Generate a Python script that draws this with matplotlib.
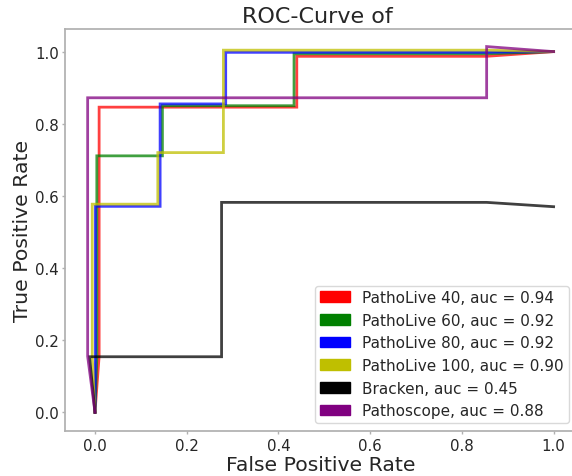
import matplotlib
matplotlib.use("Agg")
import matplotlib.pyplot as plt
import matplotlib.patches as mpatches

# ROC data (FPR, TPR per method)
labels = ["PathoLive 40, auc = 0.94", "PathoLive 60, auc = 0.92",
          "PathoLive 80, auc = 0.92", "PathoLive 100, auc = 0.90",
          "Bracken, auc = 0.45", "Pathoscope, auc = 0.88"]
colors = ["r", "g", "b", "y", "k", "purple"]

fpr_pl40 = [0, 0.009, 0.009, 0.440, 0.440, 0.854, 1.0]
tpr_pl40 = [0, 0.155, 0.846, 0.846, 0.987, 0.987, 1.0]

fpr_pl60 = [0, 0.004, 0.004, 0.147, 0.147, 0.434, 0.434, 0.854, 1.0]
tpr_pl60 = [0, 0.155, 0.711, 0.711, 0.850, 0.850, 0.994, 0.994, 1.0]

fpr_pl80 = [0, 0.001, 0.001, 0.142, 0.142, 0.285, 0.285, 0.854, 1.0]
tpr_pl80 = [0, 0.155, 0.571, 0.571, 0.855, 0.855, 0.998, 0.998, 1.0]

fpr_pl100 = [0, -0.006, -0.006, 0.137, 0.137, 0.280, 0.280, 0.854, 1.0]
tpr_pl100 = [0, 0.155, 0.577, 0.577, 0.720, 0.720, 1.004, 1.004, 1.0]

fpr_bracken = [0, -0.012, 0.276, 0.276, 0.854, 1.0]
tpr_bracken = [0, 0.154, 0.154, 0.582, 0.582, 0.570]

fpr_pathoscope = [0, -0.016, -0.016, 0.854, 0.854, 1.0]
tpr_pathoscope = [0, 0.155, 0.872, 0.872, 1.014, 1.0]

fprs = [fpr_pl40, fpr_pl60, fpr_pl80, fpr_pl100, fpr_bracken, fpr_pathoscope]
tprs = [tpr_pl40, tpr_pl60, tpr_pl80, tpr_pl100, tpr_bracken, tpr_pathoscope]

xticks = [0.0, 0.2, 0.4, 0.6, 0.8, 1.0]
yticks = [0.0, 0.2, 0.4, 0.6, 0.8, 1.0]

plt.rcParams['font.family'] = ['DejaVu Sans']
fig = plt.figure(figsize=(5.72, 4.77), dpi=100)
ax = fig.add_axes([65/572, (477-432.3)/477, 512/572, 402.3/477])

for fx, ty, c in zip(fprs, tprs, colors):
    ax.plot(fx, ty, color=c, lw=2.0, alpha=0.75, solid_joinstyle='miter')

ax.set_xlim(-0.0654, 1.051)
ax.set_ylim(-0.0527, 1.0627)
ax.set_xticks(xticks)
ax.set_yticks(yticks)
ax.set_xticklabels([f"{t:.1f}" for t in xticks])
ax.set_yticklabels([f"{t:.1f}" for t in yticks])
ax.tick_params(labelsize=10.8, color="#b0b0b0", length=2.5, width=1, pad=2,
               labelcolor="#262626")

for s in ax.spines.values():
    s.set_color("#b0b0b0")
    s.set_linewidth(1.25)

ax.set_xlabel("False Positive Rate", fontsize=14.7, color="#262626", labelpad=2)
ax.set_ylabel("True Positive Rate", fontsize=14.7, color="#262626", labelpad=2)
ax.set_title("ROC-Curve of ", fontsize=16, color="#262626", pad=5)

handles = [mpatches.Patch(color=c, label=l) for c, l in zip(colors, labels)]
leg = ax.legend(handles=handles, loc="lower right", fontsize=11.0, frameon=True,
                framealpha=0.8, edgecolor="#d0d0d0", fancybox=True,
                borderpad=0.3, borderaxespad=0.55, handlelength=2.0,
                labelspacing=0.5)
for t in leg.get_texts():
    t.set_color("#262626")

fig.savefig("out.png", dpi=100)
